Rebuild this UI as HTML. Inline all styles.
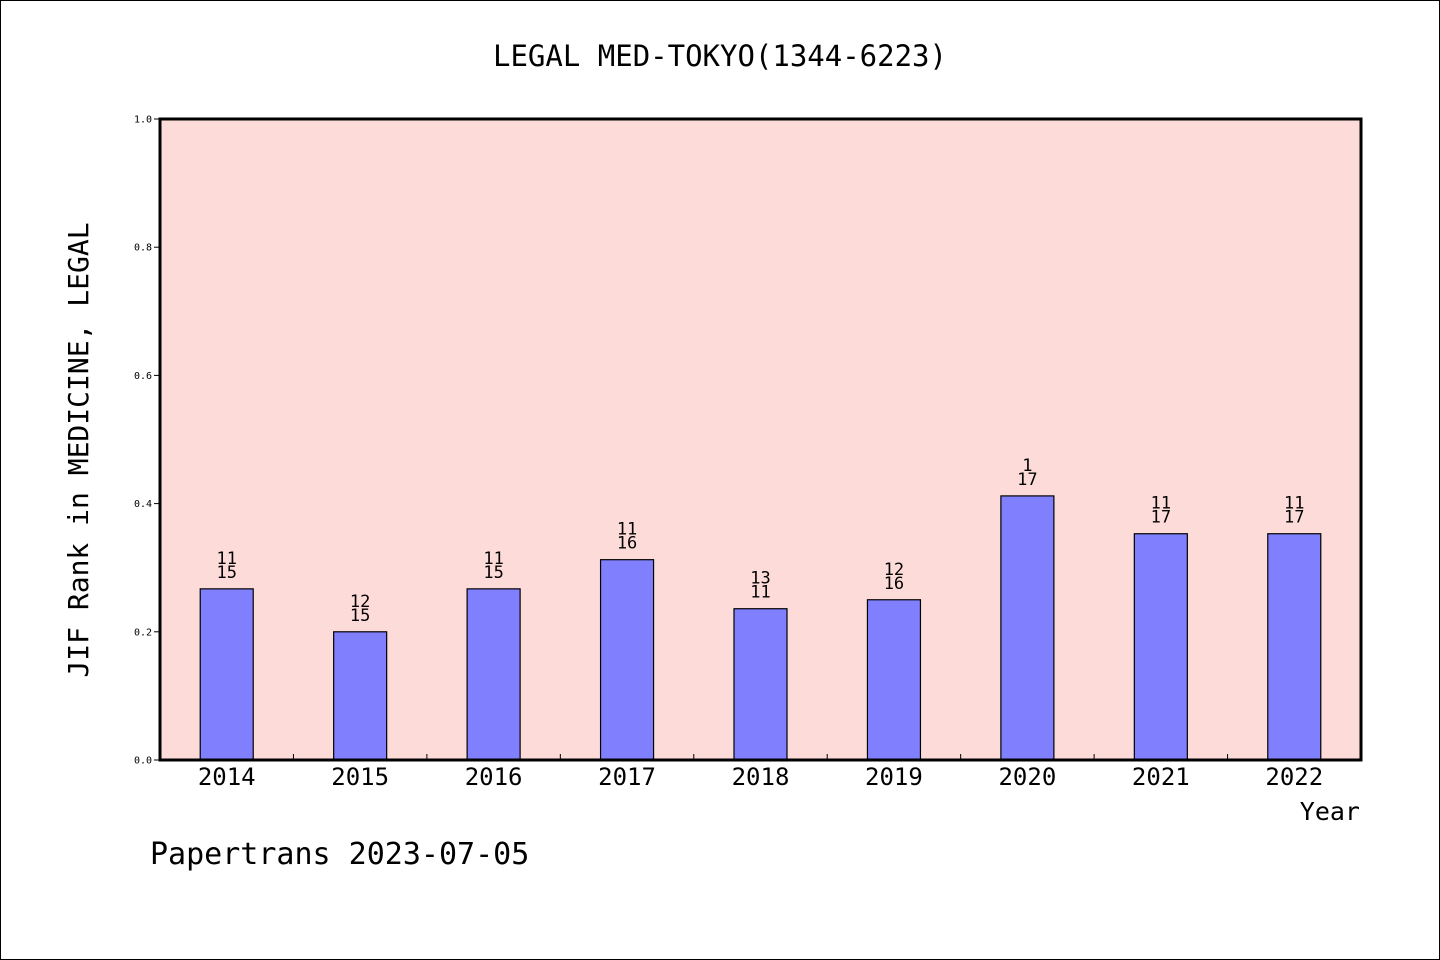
<!DOCTYPE html>
<html><head><meta charset="utf-8"><style>
body{margin:0;background:#fff}
svg{display:block}
text{font-family:"DejaVu Sans Mono","Liberation Mono",monospace;fill:#000}
</style></head><body>
<svg id="chart" width="1440" height="960" viewBox="0 0 1440 960" xmlns="http://www.w3.org/2000/svg">
<rect x="0.5" y="0.5" width="1439" height="959" fill="#fff" stroke="#000" stroke-width="1"/>
<text x="720" y="66" font-size="29" text-anchor="middle">LEGAL MED-TOKYO(1344-6223)</text>
<rect x="160" y="119" width="1201" height="641" fill="#fddbd8"/>
<g id="bars"></g>
<g id="axes"></g>
<rect x="160" y="119" width="1201" height="641" fill="none" stroke="#000" stroke-width="3"/>
<text transform="translate(88,450) rotate(-90)" font-size="28" text-anchor="middle">JIF Rank in MEDICINE, LEGAL</text>
<text x="1360" y="820" font-size="25" text-anchor="end">Year</text>
<text x="150" y="864" font-size="30">Papertrans 2023-07-05</text>
</svg>
<script>
const years=["2014","2015","2016","2017","2018","2019","2020","2021","2022"];
const values=[0.267,0.2,0.267,0.3125,0.236,0.25,0.412,0.353,0.353];
const topLabels=["11","12","11","11","13","12","1","11","11"];
const bottomLabels=["15","15","15","16","11","16","17","17","17"];
const yTicks=[0,0.2,0.4,0.6,0.8,1.0];
const NS="http://www.w3.org/2000/svg";
const X0=160,X1=1361,Y0=760,Y1=119;
const band=(X1-X0)/years.length;
const xC=i=>X0+(i+0.5)*band;
const yS=v=>Y0-v*(Y0-Y1);
function mk(tag,attrs,parent,txt){const e=document.createElementNS(NS,tag);for(const k in attrs)e.setAttribute(k,attrs[k]);if(txt!==undefined)e.textContent=txt;parent.appendChild(e);return e;}
const gb=document.getElementById('bars'),ga=document.getElementById('axes');
const bw=53;
years.forEach((y,i)=>{
  const r=mk('rect',{x:xC(i)-bw/2,y:yS(values[i]),width:bw,height:Y0-yS(values[i]),fill:'#8080ff',stroke:'#000','stroke-width':1.2},gb);
  
  
  const t1=mk('text',{x:xC(i),y:yS(values[i])-25,'font-size':17,'text-anchor':'middle'},gb,topLabels[i]);
  
  
  const t2=mk('text',{x:xC(i),y:yS(values[i])-11,'font-size':17,'text-anchor':'middle'},gb,bottomLabels[i]);
  
  
  const xl=mk('text',{x:xC(i),y:785,'font-size':24,'text-anchor':'middle'},ga,y);
  
  
  if(i>0){const tk=mk('line',{x1:X0+i*band,x2:X0+i*band,y1:Y0,y2:Y0-6,stroke:'#000','stroke-width':1},ga);
  
  }
});
yTicks.forEach(v=>{
  const tk=mk('line',{x1:X0-6,x2:X0,y1:yS(v),y2:yS(v),stroke:'#000','stroke-width':1},ga);
  
  
  const tl=mk('text',{x:X0-8,y:yS(v)+3.5,'font-size':10,'text-anchor':'end'},ga,v.toFixed(1));
  
  
});
</script>
</body></html>
